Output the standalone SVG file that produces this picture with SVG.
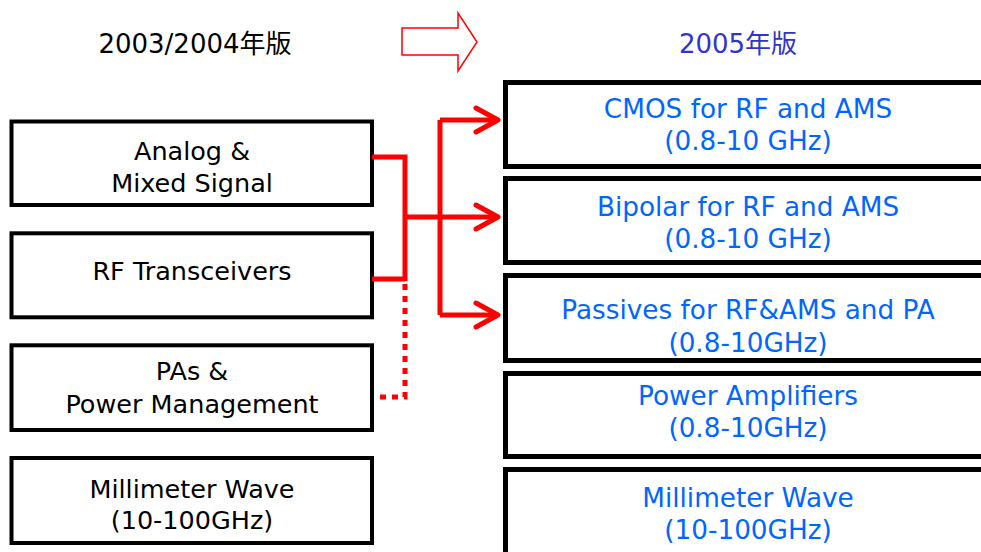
<svg xmlns="http://www.w3.org/2000/svg" width="981" height="552" viewBox="0 0 981 552">
  <style>
    text { font-family: "DejaVu Sans", "Noto Sans CJK JP", sans-serif; text-anchor: middle; }
    .old rect { fill: #ffffff; stroke: #000000; stroke-width: 4; }
    .old text { font-size: 25.5px; fill: #000000; }
    .new rect { fill: #ffffff; stroke: #000000; stroke-width: 5; }
    .new text { font-size: 26.3px; fill: #0066ff; }
    .title { font-size: 26px; }
    .link { fill: none; stroke: #ff0000; stroke-width: 5; }
    .dotted { stroke-dasharray: 6 6; }
  </style>
  <defs>
    <marker id="chevron" viewBox="-28 -16 32 32" refX="0" refY="0" markerWidth="32" markerHeight="32" markerUnits="userSpaceOnUse" orient="auto">
      <path d="M-22,-12 L0,0 L-22,12" fill="none" stroke="#ff0000" stroke-width="5" stroke-linecap="round" stroke-linejoin="round"/>
    </marker>
  </defs>
  <rect width="981" height="552" fill="#ffffff"/>

  <!-- headings -->
  <text id="title-old" class="title" x="195" y="53" fill="#000000">2003/2004年版</text>
  <text id="title-new" class="title" x="738" y="53" fill="#3333cc">2005年版</text>
  <polygon id="shift-arrow" points="402,28 458,28 458,13 477,42 458,71 458,55 402,55" fill="#ffffff" stroke="#ff0000" stroke-width="1.5"/>

  <!-- previous categories -->
  <g id="old-ams" class="old">
    <rect x="11.5" y="121.5" width="360.5" height="83.5"/>
    <text x="192" y="160">Analog &amp;</text>
    <text x="192" y="192">Mixed Signal</text>
  </g>
  <g id="old-rf" class="old">
    <rect x="11.5" y="233.3" width="360.5" height="84"/>
    <text x="192" y="280">RF Transceivers</text>
  </g>
  <g id="old-pa" class="old">
    <rect x="11.5" y="345.3" width="360.5" height="84.7"/>
    <text x="192" y="380">PAs &amp;</text>
    <text x="192" y="413">Power Management</text>
  </g>
  <g id="old-mmw" class="old">
    <rect x="11.5" y="458" width="360.5" height="85"/>
    <text x="192" y="498">Millimeter Wave</text>
    <text x="192" y="529">(10-100GHz)</text>
  </g>

  <!-- new categories -->
  <g id="new-cmos" class="new">
    <rect x="505.5" y="82.5" width="485.5" height="84"/>
    <text x="748" y="118">CMOS for RF and AMS</text>
    <text x="748" y="150">(0.8-10 GHz)</text>
  </g>
  <g id="new-bipolar" class="new">
    <rect x="505.5" y="178.5" width="485.5" height="84"/>
    <text x="748" y="216">Bipolar for RF and AMS</text>
    <text x="748" y="248">(0.8-10 GHz)</text>
  </g>
  <g id="new-passives" class="new">
    <rect x="505.5" y="275.5" width="485.5" height="85"/>
    <text x="748" y="319">Passives for RF&amp;AMS and PA</text>
    <text x="748" y="352">(0.8-10GHz)</text>
  </g>
  <g id="new-pa" class="new">
    <rect x="505.5" y="373.5" width="485.5" height="83"/>
    <text x="748" y="405">Power Amplifiers</text>
    <text x="748" y="437">(0.8-10GHz)</text>
  </g>
  <g id="new-mmw" class="new">
    <rect x="505.5" y="469.5" width="485.5" height="100"/>
    <text x="748" y="507">Millimeter Wave</text>
    <text x="748" y="539">(10-100GHz)</text>
  </g>

  <!-- connectors: merge from the old boxes, split to the new ones -->
  <g id="connectors">
    <path class="link" d="M372,157 H405 V281"/>
    <path class="link" d="M372,279 H405"/>
    <path class="link dotted" d="M405,284 V397 H378"/>
    <path class="link" d="M440,120 V315"/>
    <path class="link" d="M405,217 H498" marker-end="url(#chevron)"/>
    <path class="link" d="M440,120 H498" marker-end="url(#chevron)"/>
    <path class="link" d="M440,315 H498" marker-end="url(#chevron)"/>
  </g>
</svg>
